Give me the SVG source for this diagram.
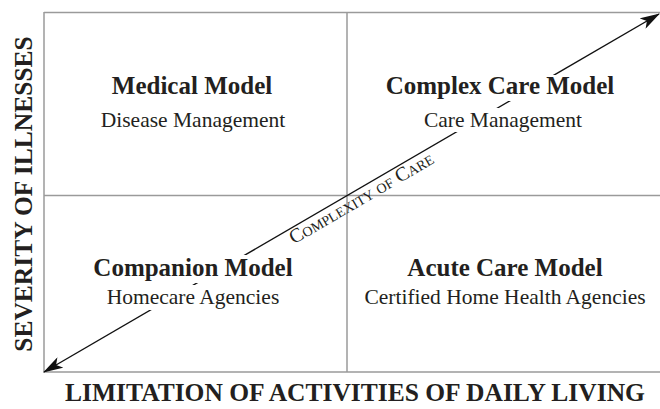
<svg xmlns="http://www.w3.org/2000/svg" width="660" height="409" viewBox="0 0 660 409">
  <style>
    .grid { stroke: #9a9a9a; stroke-width: 1.5; fill: none; }
    .title { font-family: "Liberation Serif", "Times New Roman", serif; font-weight: bold; font-size: 25px; fill: #231f20; text-anchor: middle; }
    .sub { font-family: "Liberation Serif", "Times New Roman", serif; font-size: 21.5px; fill: #231f20; text-anchor: middle; }
    .axis { font-family: "Liberation Serif", "Times New Roman", serif; font-weight: bold; font-size: 25.5px; fill: #231f20; text-anchor: middle; }
    .diag { font-family: "Liberation Serif", "Times New Roman", serif; font-size: 20px; font-variant: small-caps; fill: #231f20; text-anchor: middle; }
    .arrow { stroke: #111; stroke-width: 1.4; fill: none; }
    .bg { fill: #ffffff; stroke: none; }
  </style>
  <defs>
    <marker id="head" viewBox="0 0 20 12" refX="19" refY="6" markerWidth="20" markerHeight="12" markerUnits="userSpaceOnUse" orient="auto-start-reverse">
      <path d="M0,0 L20,6 L0,12 L5,6 z" fill="#111"/>
    </marker>
  </defs>

  <g id="grid">
    <line class="grid" x1="44" y1="12.5" x2="660" y2="12.5"/>
    <line class="grid" x1="44" y1="372" x2="660" y2="372"/>
    <line class="grid" x1="44" y1="12" x2="44" y2="372.5"/>
    <line class="grid" x1="347" y1="12" x2="347" y2="372"/>
    <line class="grid" x1="44" y1="195.5" x2="660" y2="195.5"/>
  </g>

  <g id="connectors">
    <line class="arrow" x1="44" y1="372" x2="659" y2="14" marker-start="url(#head)" marker-end="url(#head)"/>
    <text class="diag" transform="translate(364.5,203.5) rotate(-30.2)">Complexity of Care</text>
  </g>

  <g id="medical-model">
    <text class="title" x="192" y="94">Medical Model</text>
    <text class="sub" x="193" y="127">Disease Management</text>
  </g>
  <g id="complex-care-model">
    <rect class="bg" x="381" y="75" width="238" height="26"/>
    <text class="title" x="500" y="94">Complex Care Model</text>
    <rect class="bg" x="422" y="108" width="163" height="24"/>
    <text class="sub" x="503" y="127">Care Management</text>
  </g>
  <g id="companion-model">
    <rect class="bg" x="88" y="255" width="212" height="28"/>
    <text class="title" x="193" y="276">Companion Model</text>
    <rect class="bg" x="100" y="285" width="186" height="25"/>
    <text class="sub" x="193" y="304">Homecare Agencies</text>
  </g>
  <g id="acute-care-model">
    <text class="title" x="505" y="276">Acute Care Model</text>
    <text class="sub" x="505" y="304">Certified Home Health Agencies</text>
  </g>

  <g id="axis-labels">
    <text class="axis" transform="translate(32,194) rotate(-90)">SEVERITY OF ILLNESSES</text>
    <text class="axis" x="355" y="401">LIMITATION OF ACTIVITIES OF DAILY LIVING</text>
  </g>
</svg>
